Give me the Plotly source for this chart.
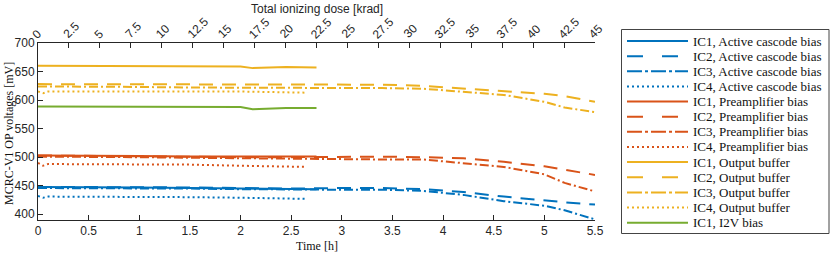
import plotly.graph_objects as go

# ---------------- data ----------------
t_short = [0, 0.05, 0.1, 0.5, 1.0, 1.5, 2.0, 2.12, 2.45, 2.75]
t_dot = [0, 0.05, 0.1, 0.5, 1.0, 1.5, 2.0, 2.65]
t_full = [0, 0.5, 1.0, 1.5, 2.0, 2.5, 3.0, 3.4, 3.8, 4.2, 4.6, 5.0, 5.2, 5.5]

ac_ic1 = [448, 448, 448, 447.5, 447, 446, 445, 444, 444, 444]
ac_ic2 = [448, 448, 448, 447, 446, 445, 446, 446, 444, 439, 431, 424, 421, 417]
ac_ic3 = [446, 446, 446, 445, 444, 443, 443, 443, 441, 434, 423, 415, 407, 391]
ac_ic4 = [432, 429, 431, 431, 431, 430, 429, 427]

pa_ic1 = [503, 503, 503, 502, 502, 501, 501, 500, 500, 501]
pa_ic2 = [503, 502, 502, 501, 500, 500, 501, 501, 500, 498, 492, 484, 478, 469]
pa_ic3 = [501, 501, 500, 499, 498, 497, 497, 496, 496, 490, 483, 470, 455, 440]
pa_ic4 = [490, 485, 488, 488, 488, 487, 485, 483]

ob_ic1 = [660, 660, 660, 659, 659, 659, 659, 656, 658, 657]
ob_ic2 = [628, 628, 627, 627, 627, 627, 627, 627, 625, 620, 616, 611, 607, 597]
ob_ic3 = [624, 624, 623, 622, 622, 622, 622, 621, 620, 614, 609, 597, 587, 579]
ob_ic4 = [615, 612, 615, 615, 616, 616, 615, 613]

i2v_ic1 = [589, 589, 589, 588, 588, 588, 588, 584, 586, 586]

dose_range = [0, 45]
x_ticks = [0, 0.5, 1, 1.5, 2, 2.5, 3, 3.5, 4, 4.5, 5, 5.5]
dose_ticks = [0, 2.5, 5, 7.5, 10, 12.5, 15, 17.5, 20, 22.5, 25, 27.5, 30,
              32.5, 35, 37.5, 40, 42.5, 45]
dose_labels = ["0", "2.5", "5", "7.5", "10", "12.5", "15", "17.5", "20", "22.5",
               "25", "27.5", "30", "32.5", "35", "37.5", "40", "42.5", "45"]
y_ticks = [400, 450, 500, 550, 600, 650, 700]

BLUE, ORANGE, YELLOW, GREEN = "#0072BD", "#D95319", "#EDB120", "#77AC30"
SOLID, DASH, DASHDOT, DOT = "solid", "14px,9px", "9px,3px,2px,3px", "2px,3px"
LSOLID, LDASH, LDASHDOT, LDOT = "solid", "16px,19px", "15px,3px,3px,3px", "2px,3px"

series = [
    ("IC1, Active cascode bias", t_short, ac_ic1, BLUE, SOLID, LSOLID),
    ("IC2, Active cascode bias", t_full, ac_ic2, BLUE, DASH, LDASH),
    ("IC3, Active cascode bias", t_full, ac_ic3, BLUE, DASHDOT, LDASHDOT),
    ("IC4, Active cascode bias", t_dot, ac_ic4, BLUE, DOT, LDOT),
    ("IC1, Preamplifier bias", t_short, pa_ic1, ORANGE, SOLID, LSOLID),
    ("IC2, Preamplifier bias", t_full, pa_ic2, ORANGE, DASH, LDASH),
    ("IC3, Preamplifier bias", t_full, pa_ic3, ORANGE, DASHDOT, LDASHDOT),
    ("IC4, Preamplifier bias", t_dot, pa_ic4, ORANGE, DOT, LDOT),
    ("IC1, Output buffer", t_short, ob_ic1, YELLOW, SOLID, LSOLID),
    ("IC2, Output buffer", t_full, ob_ic2, YELLOW, DASH, LDASH),
    ("IC3, Output buffer", t_full, ob_ic3, YELLOW, DASHDOT, LDASHDOT),
    ("IC4, Output buffer", t_dot, ob_ic4, YELLOW, DOT, LDOT),
    ("IC1, I2V bias", t_short, i2v_ic1, GREEN, SOLID, LSOLID),
]

# ---------------- layout geometry (pixels) ----------------
W, H = 830, 254
L, R, T, B = 38, 595, 43, 220
PW, PH = R - L, B - T


def px(x):
    return (x - L) / PW


def py(y):
    return (B - y) / PH


fig = go.Figure()
for name, t, v, col, dash, _ in series:
    fig.add_trace(go.Scatter(x=t, y=v, mode="lines", name=name,
                             line=dict(color=col, width=2, dash=dash),
                             showlegend=False))
# carrier for the top (dose) axis
fig.add_trace(go.Scatter(x=dose_range, y=[None, None], xaxis="x2",
                         mode="lines", showlegend=False, hoverinfo="skip"))

AX = "#262626"
TICKFONT = dict(family="Liberation Sans, Arial, sans-serif", size=12, color=AX)
SERIF = "Liberation Serif, Times New Roman, serif"

shapes = []
annotations = []

# rotated tick labels of the top (dose) axis, placed on that axis' own scale
for val, lab in zip(dose_ticks, dose_labels):
    w = sum(3.33 if ch == "." else 6.67 for ch in lab)
    d = w * 0.354
    annotations.append(dict(text=lab, xref="x2", yref="paper", x=val,
                            y=py(36.0 - d), xshift=-3.4 + d,
                            xanchor="center", yanchor="middle",
                            textangle=-45, showarrow=False, font=TICKFONT))

# legend box
shapes.append(dict(type="rect", xref="paper", yref="paper",
                   x0=px(621.5), x1=px(829), y0=py(233.5), y1=py(29.5),
                   line=dict(color="#444444", width=1), fillcolor="white",
                   layer="above"))
row0, step = 41, 15.14
for i, (name, _, _, col, _, ldash) in enumerate(series):
    yy = row0 + i * step
    shapes.append(dict(type="line", xref="paper", yref="paper",
                       x0=px(627), x1=px(688), y0=py(yy), y1=py(yy),
                       line=dict(color=col, width=2, dash=ldash), layer="above"))
    annotations.append(dict(text=name, xref="paper", yref="paper",
                            x=px(691), y=py(yy), xanchor="left", yanchor="middle",
                            showarrow=False,
                            font=dict(family=SERIF, size=13, color="#111111")))

# axis titles
annotations.append(dict(text="Time [h]", xref="paper", yref="paper",
                        x=0.5, y=py(246), xanchor="center", yanchor="middle",
                        showarrow=False, font=dict(family=SERIF, size=12, color="#111111")))
annotations.append(dict(text="MCRC-V1 OP voltages [mV]", xref="paper", yref="paper",
                        x=px(9), y=py(134), xanchor="center", yanchor="middle",
                        textangle=-90, showarrow=False,
                        font=dict(family=SERIF, size=12, color="#111111")))
annotations.append(dict(text="Total ionizing dose [krad]", xref="paper", yref="paper",
                        x=0.5, y=py(9), xanchor="center", yanchor="middle",
                        showarrow=False, font=TICKFONT))

fig.update_layout(
    width=W, height=H,
    margin=dict(l=L, r=W - R, t=T, b=H - B, pad=0),
    plot_bgcolor="white", paper_bgcolor="white",
    xaxis=dict(range=[0, 5.5], tickvals=x_ticks, ticks="inside", ticklen=5,
               tickcolor=AX, showline=True, linecolor=AX, linewidth=1,
               showgrid=False, zeroline=False, tickfont=TICKFONT,
               automargin=False),
    xaxis2=dict(range=dose_range, tickvals=dose_ticks, overlaying="x", side="top",
                anchor="y", ticks="inside", ticklen=5, tickcolor=AX,
                showline=True, linecolor=AX, linewidth=1, showgrid=False,
                zeroline=False, showticklabels=False, automargin=False),
    yaxis=dict(range=[390, 700], tickvals=y_ticks, ticks="inside", ticklen=5,
               tickcolor=AX, showline=True, linecolor=AX, linewidth=1,
               showgrid=False, zeroline=False, tickfont=TICKFONT,
               automargin=False),
    shapes=shapes, annotations=annotations,
)

fig.write_html("out.html", config={"displayModeBar": False},
               post_script="document.body.style.margin='0';"
                           "document.body.style.padding='0';"
                           "document.body.style.overflow='hidden';")
